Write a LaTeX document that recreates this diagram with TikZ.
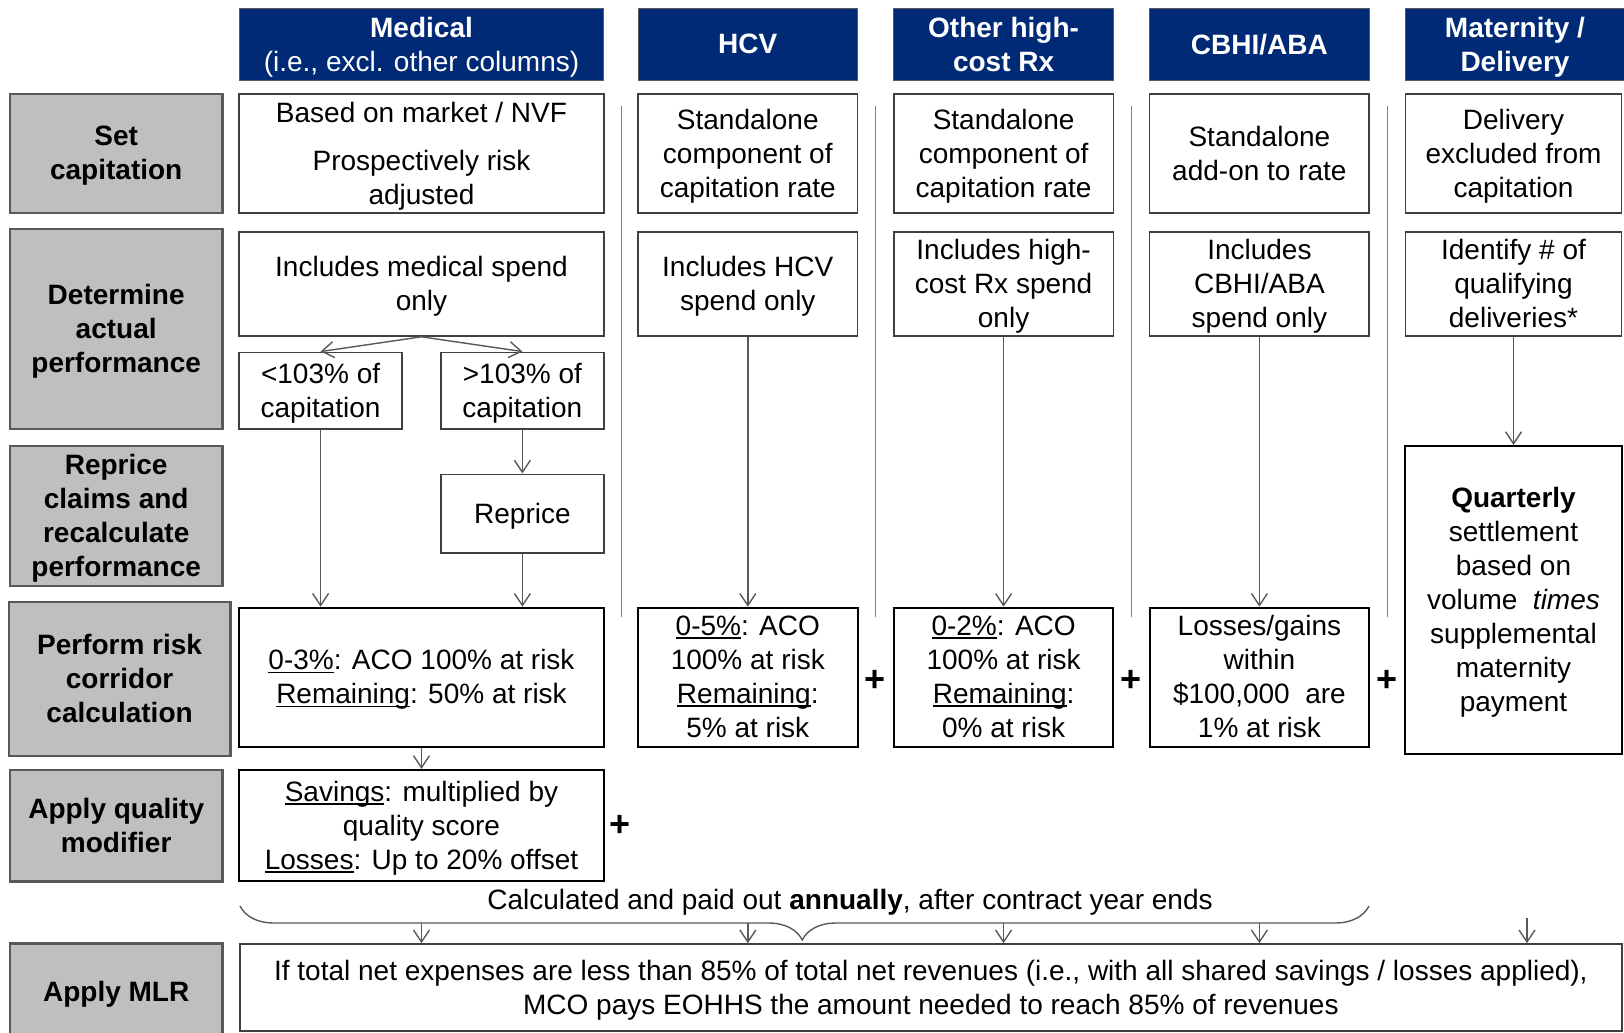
\documentclass[tikz,border=0pt]{standalone}
\usepackage{fontspec}
\setmainfont{Liberation Sans}
\usetikzlibrary{arrows.meta,positioning,decorations.pathreplacing}
\definecolor{hdrblue}{RGB}{0,42,118}
\definecolor{stagegray}{RGB}{191,191,191}
\definecolor{edgegray}{RGB}{89,89,89}
\newsavebox{\ulbox}
\newcommand{\ulx}[1]{\sbox{\ulbox}{#1}\rlap{\rule[-1.8pt]{\wd\ulbox}{0.8pt}}\usebox{\ulbox}}

\begin{document}
\begin{tikzpicture}[x=0.5pt,y=-0.5pt,font=\fontsize{14}{17}\selectfont,
  sz/.style 2 args={minimum width=#1*0.5pt,minimum height=#2*0.5pt},
  hdr/.style={draw=edgegray,fill=hdrblue,text=white,font=\fontsize{14}{17}\selectfont\bfseries,align=center,inner sep=0pt,text depth=0.5pt},
  stage/.style={draw=edgegray,line width=1.2pt,fill=stagegray,font=\fontsize{14}{17}\selectfont\bfseries,align=center,inner sep=0pt,text depth=0.5pt},
  cell/.style={draw=black!75,line width=0.8pt,fill=white,align=center,inner sep=0pt,text depth=0.5pt},
  calcbox/.style={draw=black,line width=1pt,fill=white,align=center,inner sep=0pt,text depth=0.5pt},
  flow/.style={draw=edgegray,line width=0.7pt,-{Straight Barb[length=6pt,width=8pt]}},
  sep/.style={draw=gray,line width=0.6pt},
  plus/.style={font=\fontsize{18}{18}\selectfont\bfseries,inner sep=0pt}]
\useasboundingbox (0,0) rectangle (1624,1033);
% column headers
\node[hdr,sz={364.6}{72.5}] (hMed) at (421.5,44.5) {Medical\\\mdseries(i.e., excl. other columns)};
\node[hdr,sz={219.6}{72.5}] (hHCV) at (747.8,44.5) {HCV};
\node[hdr,sz={219.6}{72.5}] (hRx) at (1003.6,44.5) {Other high-\\cost Rx};
\node[hdr,sz={219.6}{72.5}] (hCBHI) at (1259.4,44.5) {CBHI/ABA};
\node[hdr,sz={220}{72.5}] (hMat) at (1515,44.5) {Maternity /\\Delivery};
% stages
\node[stage,sz={212.7}{119}] (sCap) at (116.2,153.5) {Set\\capitation};
\node[stage,sz={212.7}{200}] (sAct) at (116.2,329) {Determine\\actual\\performance};
\node[stage,sz={212.7}{140.3}] (sRepr) at (116.2,515.9) {Reprice\\claims and\\recalculate\\performance};
\node[stage,sz={221.8}{154.3}] (sRisk) at (119.6,678.9) {Perform risk\\corridor\\calculation};
\node[stage,sz={212.7}{111.5}] (sQual) at (116.2,825.7) {Apply quality\\modifier};
\node[stage,sz={212.7}{96.5}] (sMLR) at (116.2,991.8) {Apply MLR};
% set capitation
\node[cell,sz={364.6}{119}] (mCap) at (421.5,153.5) {Based on market / NVF\\[7pt]Prospectively risk\\adjusted};
\node[cell,sz={219.6}{119}] (hCap) at (747.8,153.5) {Standalone\\component of\\capitation rate};
\node[cell,sz={219.6}{119}] (rCap) at (1003.6,153.5) {Standalone\\component of\\capitation rate};
\node[cell,sz={219.6}{119}] (cCap) at (1259.4,153.5) {Standalone\\add-on to rate};
\node[cell,sz={216.3}{119}] (dCap) at (1513.5,153.5) {Delivery\\excluded from\\capitation};
% actual performance
\node[cell,sz={364.6}{104}] (mAct) at (421.5,284) {Includes medical spend\\only};
\node[cell,sz={219.6}{104}] (hAct) at (747.8,284) {Includes HCV\\spend only};
\node[cell,sz={219.6}{104}] (rAct) at (1003.6,284) {Includes high-\\cost Rx spend\\only};
\node[cell,sz={219.6}{104}] (cAct) at (1259.4,284) {Includes\\CBHI/ABA\\spend only};
\node[cell,sz={216.3}{104}] (dAct) at (1513.5,284) {Identify \# of\\qualifying\\deliveries*};
\node[cell,sz={162.8}{76.7}] (mLow) at (320.6,390.7) {<103\% of\\capitation};
\node[cell,sz={162.8}{76.7}] (mHigh) at (522.4,390.7) {>103\% of\\capitation};
\node[cell,sz={162.8}{78.4}] (mRepr) at (522.4,513.5) {Reprice};
% risk corridor
\node[calcbox,sz={364.6}{139}] (mRisk) at (421.5,677.2) {\ulx{0-3\%}: ACO 100\% at risk\\\ulx{Remaining}: 50\% at risk};
\node[calcbox,sz={219.6}{139}] (hRisk) at (747.8,677.2) {\ulx{0-5\%}: ACO\\100\% at risk\\\ulx{Remaining}:\\5\% at risk};
\node[calcbox,sz={219.6}{139}] (rRisk) at (1003.6,677.2) {\ulx{0-2\%}: ACO\\100\% at risk\\\ulx{Remaining}:\\0\% at risk};
\node[calcbox,sz={219.6}{139}] (cRisk) at (1259.4,677.2) {Losses/gains\\within\\\$100,000~ are\\1\% at risk};
\node[calcbox,sz={216.3}{308}] (dQtr) at (1513.5,600) {\textbf{Quarterly}\\settlement\\based on\\volume~ \textit{times}\\supplemental\\maternity\\payment};
\node[calcbox,sz={364.6}{111.5}] (mQual) at (421.5,825.7) {\ulx{Savings}: multiplied by\\quality score\\\ulx{Losses}: Up to 20\% offset};
\node[cell,sz={1381.7}{87}] (mlr) at (930.9,987.5) {If total net expenses are less than 85\% of total net revenues (i.e., with all shared savings / losses applied),\\MCO pays EOHHS the amount needed to reach 85\% of revenues};
% separators and plus signs
\foreach \x in {621.4,875.5,1131.3,1387.3} \draw[sep] (\x,106) -- (\x,617);
\node[plus] (pHCV) at (875.5,681) {+}; \node[plus] (pRx) at (1131.3,681) {+};
\node[plus] (pCBHI) at (1387.3,681) {+}; \node[plus] (pQual) at (620.5,826) {+};
% flows
\draw[flow] (mAct.south) -- (mLow.north); \draw[flow] (mAct.south) -- (mHigh.north);
\draw[flow] (mLow.south) -- (mLow.south |- mRisk.north);
\draw[flow] (mHigh.south) -- (mRepr.north);
\draw[flow] (mRepr.south) -- (mRepr.south |- mRisk.north);
\draw[flow] (mRisk.south) -- (mQual.north);
\draw[flow] (hAct.south) -- (hRisk.north); \draw[flow] (rAct.south) -- (rRisk.north);
\draw[flow] (cAct.south) -- (cRisk.north); \draw[flow] (dAct.south) -- (dQtr.north);
% annual settlement
\node (annual) at (850,902) {Calculated and paid out \textbf{annually}, after contract year ends};
\draw[edgegray,line width=0.7pt,decorate,decoration={brace,mirror,amplitude=17pt,aspect=0.498}] (240,906) -- (1369,906);
\coordinate (tMed) at (421.5,923); \coordinate (tHCV) at (747.8,923);
\coordinate (tRx) at (1003.6,923); \coordinate (tCBHI) at (1259.4,923);
\coordinate (tMat) at (1527,918);
\foreach \t in {tMed,tHCV,tRx,tCBHI,tMat} \draw[flow] (\t) -- (\t |- mlr.north);
\end{tikzpicture}
\end{document}
